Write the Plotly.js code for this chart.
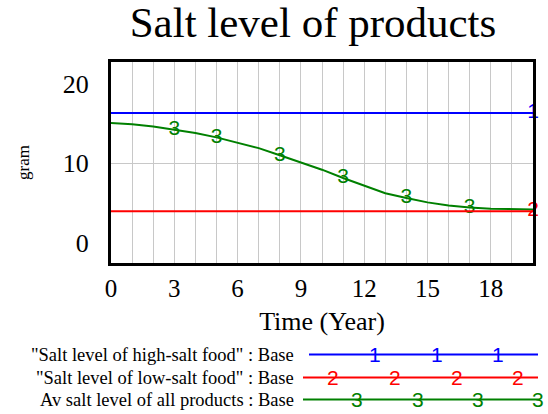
<!DOCTYPE html>
<html>
<head>
<meta charset="utf-8">
<script src="https://cdn.plot.ly/plotly-3.0.1.min.js"></script>
<style>html,body{margin:0;padding:0;background:#fff;}#chart{width:548px;height:414px;}</style>
</head>
<body>
<div id="chart"></div>
<script>
// ---- data ----
const years = [0,1,2,3,4,5,6,7,8,9,10,11,12,13,14,15,16,17,18,19,20];
const highSalt = [16.3,16.3,16.3,16.3,16.3,16.3,16.3,16.3,16.3,16.3,16.3,16.3,16.3,16.3,16.3,16.3,16.3,16.3,16.3,16.3,16.3];
const lowSalt = [4,4,4,4,4,4,4,4,4,4,4,4,4,4,4,4,4,4,4,4,4];
const avgSalt = [15.05,14.9,14.6,14.2,13.8,13.25,12.55,11.9,11.0,10.1,9.2,8.15,7.15,6.25,5.65,5.1,4.7,4.45,4.3,4.25,4.2];
const highMarks = ['','','','','','','','','','','','','','','','','','','','','1'];
const lowMarks  = ['','','','','','','','','','','','','','','','','','','','','2'];
const avgMarks  = ['','','','3','','3','','','3','','','3','','','3','','','3','','',''];
const seriesNames = ['"Salt level of high-salt food" : Base', '"Salt level of low-salt food" : Base', 'Av salt level of all products : Base'];
const seriesColors = ['#0000ff', '#ff0000', '#008000'];
const seriesIds = ['1','2','3'];
const xTickVals = [0,3,6,9,12,15,18];
const yTickVals = [0,10,20];

// ---- layout helpers (pixel -> paper) ----
const W = 548, H = 414;
const px = x => x / W;
const py = y => 1 - y / H;

const sans = '"Liberation Sans", Arial, sans-serif';
const serif = '"Liberation Serif", "Times New Roman", serif';
const markFont = c => ({family: sans, size: 21, color: c});

const traces = [
  {x: years, y: avgSalt, mode: 'lines+text', text: avgMarks, textposition: 'middle center',
   textfont: markFont(seriesColors[2]), line: {color: seriesColors[2], width: 2}, cliponaxis: false, showlegend: false, hoverinfo: 'skip'},
  {x: years, y: highSalt, mode: 'lines+text', text: highMarks, textposition: 'middle center',
   textfont: markFont(seriesColors[0]), line: {color: seriesColors[0], width: 2}, cliponaxis: false, showlegend: false, hoverinfo: 'skip'},
  {x: years, y: lowSalt, mode: 'lines+text', text: lowMarks, textposition: 'middle center',
   textfont: markFont(seriesColors[1]), line: {color: seriesColors[1], width: 2}, cliponaxis: false, showlegend: false, hoverinfo: 'skip'},
  // invisible trace to activate the gridline-only overlay axis
  {x: [years[0]], y: [avgSalt[0]], yaxis: 'y2', mode: 'markers', marker: {opacity: 0}, showlegend: false, hoverinfo: 'skip'}
];

const xDom = [px(111), px(533)];
const yDom = [py(263), py(62)];
const yRange = [-2.5, 22.7];

// legend (drawn as shapes + annotations below the plot)
const legendRows = [354.5, 377.5, 399.5];
const legendLineX = [[309, 538], [303, 538], [303, 540]];
const legendMarkX = [[375, 437, 498], [333, 395, 457, 518], [357, 418, 478, 538]];

const shapes = [];
const annotations = [];
for (let i = 0; i < 3; i++) {
  shapes.push({type: 'line', xref: 'paper', yref: 'paper',
    x0: px(legendLineX[i][0]), x1: px(legendLineX[i][1]), y0: py(legendRows[i]), y1: py(legendRows[i]),
    line: {color: seriesColors[i], width: 2}});
  annotations.push({xref: 'paper', yref: 'paper', x: px(296), y: py(legendRows[i]), xanchor: 'right', yanchor: 'middle',
    text: seriesNames[i], showarrow: false, font: {family: serif, size: 18.5, color: '#000'}});
  legendMarkX[i].forEach(mx => annotations.push({xref: 'paper', yref: 'paper', x: px(mx), y: py(legendRows[i]),
    xanchor: 'center', yanchor: 'middle', text: seriesIds[i], showarrow: false, font: markFont(seriesColors[i])}));
}

const layout = {
  width: W, height: H,
  margin: {l: 0, r: 0, t: 0, b: 0},
  paper_bgcolor: '#fff', plot_bgcolor: '#fff',
  showlegend: false,
  title: {text: 'Salt level of products', font: {family: serif, size: 43, color: '#000'},
          x: px(313), xanchor: 'center', xref: 'paper', y: py(22), yanchor: 'middle', yref: 'paper'},
  xaxis: {domain: xDom, range: [0, 20], tickvals: xTickVals, ticks: 'outside', ticklen: 1, tickcolor: 'rgba(0,0,0,0)',
          showgrid: true, gridcolor: '#c8c8c8', gridwidth: 1,
          minor: {dtick: 1, showgrid: true, gridcolor: '#c8c8c8', gridwidth: 1},
          showline: true, mirror: true, linecolor: '#000', linewidth: 3, zeroline: false,
          tickfont: {family: serif, size: 25, color: '#000'},
          title: {text: 'Time (Year)', font: {family: serif, size: 26, color: '#000'}, standoff: 11}},
  yaxis: {domain: yDom, range: yRange, tickvals: yTickVals, ticks: 'outside', ticklen: 14, tickcolor: 'rgba(0,0,0,0)',
          showgrid: false, showline: true, mirror: true, linecolor: '#000', linewidth: 3, zeroline: false,
          tickfont: {family: serif, size: 26, color: '#000'},
          title: {text: 'gram', font: {family: serif, size: 17, color: '#000'}, standoff: 29}},
  yaxis2: {domain: yDom, range: yRange, overlaying: 'y', tickvals: [10], showticklabels: false, ticks: '',
           showgrid: true, gridcolor: '#c8c8c8', gridwidth: 1, zeroline: false, showline: false},
  shapes: shapes,
  annotations: annotations
};

Plotly.newPlot('chart', traces, layout, {displayModeBar: false, staticPlot: true});
</script>
</body>
</html>
